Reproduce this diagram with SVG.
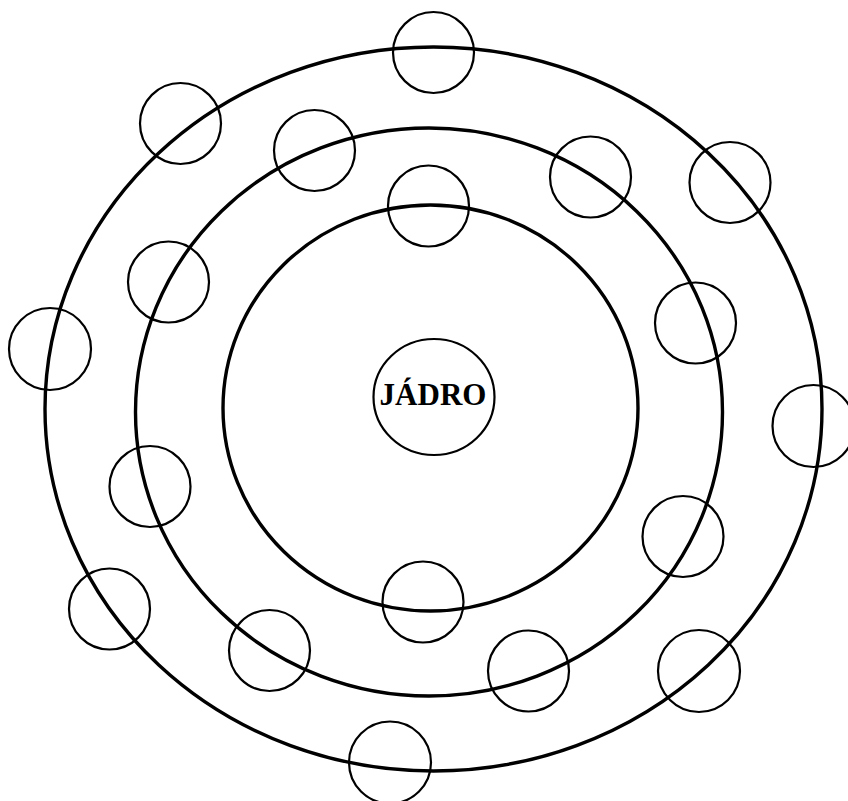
<svg xmlns="http://www.w3.org/2000/svg" width="848" height="801" viewBox="0 0 848 801">
<style>
.orbit{fill:none;stroke:#000;stroke-width:3.4}
.e{fill:none;stroke:#000;stroke-width:2.2}
.nuc{fill:none;stroke:#000;stroke-width:2.2}
.lbl{font-family:"Liberation Serif","Times New Roman",serif;font-weight:bold;font-size:31px;fill:#000}
</style>
<rect width="848" height="801" fill="#fff"/>
<g id="orbits">
<ellipse class="orbit" cx="433.5" cy="409" rx="388.5" ry="362"/>
<ellipse class="orbit" cx="429" cy="412" rx="293.5" ry="284"/>
<ellipse class="orbit" cx="430.5" cy="408" rx="207.5" ry="203"/>
</g>
<g id="nucleus">
<ellipse class="nuc" cx="434" cy="397" rx="60.5" ry="58"/>
<text class="lbl" x="433" y="405" text-anchor="middle">JÁDRO</text>
</g>
<g id="electrons">
<circle class="e" cx="433.5" cy="52.5" r="40.5"/>
<circle class="e" cx="180.5" cy="123.5" r="40.5"/>
<circle class="e" cx="314.5" cy="150.5" r="40.5"/>
<circle class="e" cx="590.5" cy="177" r="40.5"/>
<circle class="e" cx="730" cy="182.5" r="40.5"/>
<circle class="e" cx="428.5" cy="206" r="40.5"/>
<circle class="e" cx="168.5" cy="282" r="40.5"/>
<circle class="e" cx="695.5" cy="323" r="40.5"/>
<circle class="e" cx="50" cy="349" r="41"/>
<circle class="e" cx="813.5" cy="426" r="41"/>
<circle class="e" cx="150" cy="486.5" r="40.5"/>
<circle class="e" cx="683" cy="536.5" r="40.5"/>
<circle class="e" cx="109.5" cy="609" r="40.5"/>
<circle class="e" cx="423" cy="602" r="40.5"/>
<circle class="e" cx="269.5" cy="650.5" r="40.5"/>
<circle class="e" cx="528.5" cy="671" r="40.5"/>
<circle class="e" cx="699" cy="671" r="41"/>
<circle class="e" cx="390" cy="762.5" r="41"/>
</g>
</svg>
